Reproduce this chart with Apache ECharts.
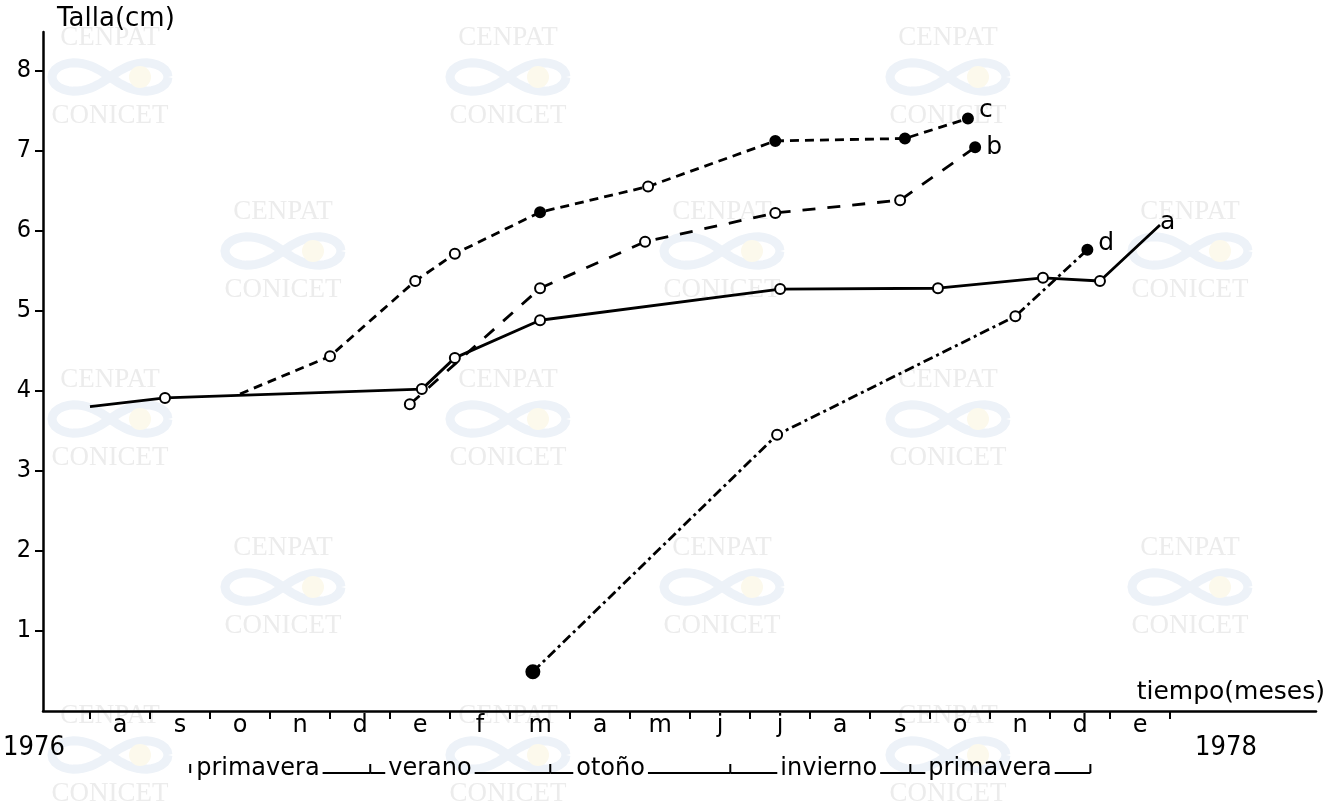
<!DOCTYPE html>
<html><head><meta charset="utf-8">
<script src="https://cdn.jsdelivr.net/npm/echarts@6/dist/echarts.min.js"></script>
<style>html,body{margin:0;padding:0;background:#fff}#c{width:1331px;height:811px}</style>
</head><body><div id="c"></div>
<script>
// ---------------- DATA ----------------
// x = months since 1 August 1976 (tick = start of month), y = Talla (cm)
const monthLabels = ['a','s','o','n','d','e','f','m','a','m','j','j','a','s','o','n','d','e'];
const monthTickValues = [0,1,2,3,4,5,6,7,8,9,10,11,12,13,14,15,16,17,18];
const yTickValues = [1,2,3,4,5,6,7,8];
const yearLabels = ['1976','1978'];
const seasonNames = ['primavera','verano','otoño','invierno','primavera'];
const seasonBounds = [1.67,4.67,7.67,10.67,13.67,16.67];
const seriesNames = ['a','b','c','d'];
const serieA = [[0.00,3.80],[1.25,3.91],[5.53,4.02],[6.08,4.41],[7.50,4.88],[11.50,5.27],[14.13,5.28],[15.88,5.41],[16.83,5.37],[17.83,6.07]];
const serieB = [[5.33,3.83],[7.50,5.28],[9.25,5.86],[11.42,6.22],[13.50,6.38],[14.75,7.04]];
const serieC = [[2.50,3.96],[4.00,4.43],[5.42,5.37],[6.08,5.71],[7.50,6.23],[9.30,6.55],[11.42,7.12],[13.58,7.15],[14.63,7.40]];
const serieD = [[7.38,0.49],[11.45,3.45],[15.42,4.93],[16.62,5.76]];
const watermarkWords = ['CENPAT','CONICET'];

// ---------------- STYLE ----------------
const FONT = "'DejaVu Sans Condensed','Liberation Sans Narrow','DejaVu Sans',sans-serif";
const FONT2 = "'DejaVu Sans','Liberation Sans',sans-serif";
const chart = echarts.init(document.getElementById('c'), null, {renderer:'canvas'});

function items(arr, opts) {
  return arr.map((p, i) => {
    const it = {value: p};
    if (opts.none && opts.none.includes(i)) it.symbol = 'none';
    if (opts.filled && opts.filled.includes(i)) it.itemStyle = {color:'#000', borderColor:'#000'};
    if (opts.big && opts.big.includes(i)) it.symbolSize = 13;
    if (opts.label && i === arr.length - 1) {
      it.label = {show:true, formatter: opts.name, position:'right', distance: opts.ldist || 4,
        offset: opts.loff || [0,0], fontSize: 25, fontFamily: FONT2, color:'#000'};
    }
    return it;
  });
}
function lineSeries(name, arr, dash, opts) {
  const s = {
    type:'line', name, data: items(arr, Object.assign({name}, opts)),
    symbol:'circle', symbolSize: 10, silent:true, animation:false,
    lineStyle:{color:'#000', width: 2.8, type: dash, cap:'butt'},
    itemStyle:{color:'#fff', borderColor:'#000', borderWidth:2},
    z: 5
  };
  if (!opts.label) s.endLabel = {show:true, formatter: name, distance: 0, fontSize: 25, fontFamily: FONT2, color:'#000', offset:[0,-2]};
  return s;
}

const option = {
  backgroundColor:'#fff',
  animation:false,
  grid:{left:43, right:15, top:32, bottom:100, containLabel:false},
  xAxis:{
    type:'value', min:-0.783, max:20.43,
    splitLine:{show:false},
    axisLine:{show:true, onZero:false, lineStyle:{color:'#000', width:2.5}},
    axisTick:{show:true, customValues: monthTickValues, length:8, inside:false, lineStyle:{color:'#000', width:2}},
    axisLabel:{show:true, customValues: monthLabels.map((_, i) => i + 0.5),
      formatter: v => monthLabels[Math.floor(v)] || '', fontSize:24, fontFamily:FONT2, color:'#000', margin:3},
    name:'tiempo(meses)', nameLocation:'end', nameGap:9,
    nameTextStyle:{align:'right', verticalAlign:'bottom', fontSize:25, fontFamily:FONT2, color:'#000', padding:[0,0,6,0]}
  },
  yAxis:{
    type:'value', min:0, max:8.48,
    splitLine:{show:false},
    axisLine:{show:true, onZero:false, lineStyle:{color:'#000', width:2.5}},
    axisTick:{show:true, customValues: yTickValues, length:8, inside:false, lineStyle:{color:'#000', width:2}},
    axisLabel:{show:true, customValues: yTickValues, fontSize:25, fontFamily:FONT, color:'#000', margin:12},
    name:'Talla(cm)', nameLocation:'end', nameGap:0,
    nameTextStyle:{align:'left', verticalAlign:'bottom', fontSize:26, fontFamily:FONT2, color:'#000', padding:[0,0,0,14]}
  },
  series:[
    lineSeries(seriesNames[0], serieA, 'solid', {none:[0,9]}),
    lineSeries(seriesNames[1], serieB, [13,12], {filled:[5], ldist:5, label:true}),
    lineSeries(seriesNames[2], serieC, [9,6], {none:[0], filled:[4,6,7,8], ldist:5, loff:[0,-8], label:true}),
    lineSeries(seriesNames[3], serieD, [10,4,3,4], {filled:[0,3], big:[0], ldist:5, loff:[0,-6], label:true})
  ]
};
chart.setOption(option);

// ---------------- ANNOTATIONS ----------------
const measure = (() => { const c = document.createElement('canvas').getContext('2d');
  return (t, f) => { c.font = f; return c.measureText(t).width; }; })();

const g = [];
// watermark logo outline (decorative lemniscate)
const logoPts = [];
for (let k = 0; k <= 64; k++) {
  const t = k / 64 * Math.PI * 2, d = 1 + Math.sin(t) * Math.sin(t);
  logoPts.push([58 * Math.cos(t) / d, 40 * Math.sin(t) * Math.cos(t) / d]);
}
const wmFont = "27px 'Liberation Serif','DejaVu Serif',serif";
const wmCols1 = [110, 508, 948], wmCols2 = [283, 722, 1190];
const wmRows = [[38, wmCols1], [212, wmCols2], [380, wmCols1], [548, wmCols2], [716, wmCols1]];
wmRows.forEach(([y, cols]) => cols.forEach(x => {
  g.push({type:'polyline', silent:true, z:-11, x, y: y+39, shape:{points: logoPts}, style:{fill:null, stroke:'#edf2f8', lineWidth:9}});
  g.push({type:'circle', silent:true, z:-11, x: x+30, y: y+39, shape:{r:11}, style:{fill:'#fcf9ec'}});
  g.push({type:'text', silent:true, z:-10, x, y, style:{text:watermarkWords[0], font:wmFont, fill:'#ececec', align:'center', verticalAlign:'middle'}});
  g.push({type:'text', silent:true, z:-10, x, y: y+78, style:{text:watermarkWords[1], font:wmFont, fill:'#ececec', align:'center', verticalAlign:'middle'}});
}));

// year labels
const yearFont = "27px " + FONT;
g.push({type:'text', x:34, y:748, style:{text:yearLabels[0], font:yearFont, fill:'#000', align:'center', verticalAlign:'middle'}});
g.push({type:'text', x:1226, y:748, style:{text:yearLabels[1], font:yearFont, fill:'#000', align:'center', verticalAlign:'middle'}});

// season row: text placed after each bracket, joined by rules
const sFont = "24px " + FONT2;
const rowY = 769, lineY = 773;
const seasonLead = [6, 18, 26, 50, 18];
const bx = seasonBounds.map(v => chart.convertToPixel({xAxisIndex:0}, v));
bx.forEach(x => {
  g.push({type:'line', shape:{x1:x, y1:lineY-9, x2:x, y2:lineY}, style:{stroke:'#000', lineWidth:2}});
});
seasonNames.forEach((s, i) => {
  const x0 = bx[i], x1 = bx[i+1];
  const w = measure(s, sFont);
  const tx = x0 + seasonLead[i];
  g.push({type:'text', x:tx, y:rowY, style:{text:s, font:sFont, fill:'#000', align:'left', verticalAlign:'middle'}});
  const gap = 3;
  if (i > 0) g.push({type:'line', shape:{x1:x0, y1:lineY, x2:tx - gap, y2:lineY}, style:{stroke:'#000', lineWidth:2}});
  g.push({type:'line', shape:{x1:tx + w + gap, y1:lineY, x2:x1, y2:lineY}, style:{stroke:'#000', lineWidth:2}});
});
chart.setOption({graphic: g});
</script></body></html>
